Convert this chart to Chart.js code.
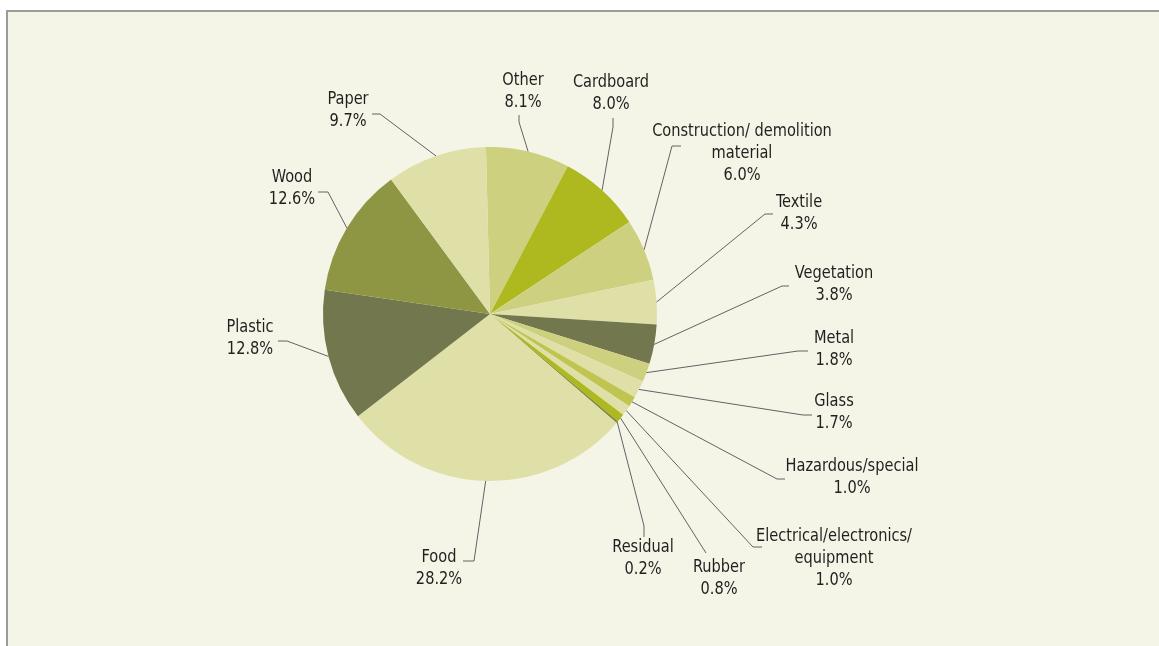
<!DOCTYPE html>
<html>
<head>
<meta charset="utf-8">
<script src="https://cdn.jsdelivr.net/npm/chart.js@4.4.1/dist/chart.umd.min.js"></script>
<style>
  html, body { margin: 0; padding: 0; background: #ffffff; width: 1159px; height: 646px; overflow: hidden; }
  #frame { position: absolute; left: 6px; top: 10px; right: 0; bottom: 0; background: #f4f5e6; border-top: 2px solid #9b9b9b; border-left: 2px solid #9b9b9b; }
  #c { position: absolute; left: 0; top: 0; }
</style>
</head>
<body>
<div id="frame"></div>
<canvas id="c" width="1159" height="646"></canvas>
<script>
// ---- Data ----
const categories = ["Other", "Cardboard", "Construction/ demolition material", "Textile", "Vegetation", "Metal", "Glass", "Hazardous/special", "Electrical/electronics/ equipment", "Rubber", "Residual", "Food", "Plastic", "Wood", "Paper"];
const shares = [8.1, 8.0, 6.0, 4.3, 3.8, 1.8, 1.7, 1.0, 1.0, 0.8, 0.2, 28.2, 12.8, 12.6, 9.7];
const labelLines = [
  ["Other"], ["Cardboard"], ["Construction/ demolition", "material"], ["Textile"], ["Vegetation"],
  ["Metal"], ["Glass"], ["Hazardous/special"], ["Electrical/electronics/", "equipment"], ["Rubber"],
  ["Residual"], ["Food"], ["Plastic"], ["Wood"], ["Paper"]
];

// ---- Styles / layout ----
const sliceColors = ["#cdd17f", "#adb91f", "#cdd17f", "#dfe0a7", "#72774d", "#cdd17f", "#dfe0a7", "#c0c552", "#dfe0a7", "#adb91f", "#848b3c", "#dfe0a7", "#72774d", "#8f9643", "#dfe0a7"];
// text center x, first line center y, leader path points (from pie outward, last point nearest text)
const labelLayout = [
  { x: 523, y: 80,  path: [[519, 122], [519, 115]] },
  { x: 611, y: 82,  path: [[613, 127], [613, 118]] },
  { x: 742, y: 131, path: [[672, 146], [681, 146]] },
  { x: 799, y: 202, path: [[765, 214], [773, 214]] },
  { x: 834, y: 273, path: [[782, 286], [789, 286]] },
  { x: 834, y: 338, path: [[798, 351], [808, 351]] },
  { x: 834, y: 401, path: [[803, 415], [812, 415]] },
  { x: 852, y: 466, path: [[777, 479], [785, 479]] },
  { x: 834, y: 536, path: [[753, 547], [762, 547]] },
  { x: 719, y: 567, path: [[706, 553]] },
  { x: 643, y: 547, path: [[644, 526], [644, 537]] },
  { x: 439, y: 557, path: [[474, 561], [463, 561]] },
  { x: 250, y: 327, path: [[287, 341], [278, 341]] },
  { x: 292, y: 177, path: [[328, 192], [318, 192]] },
  { x: 348, y: 99,  path: [[380, 114], [372, 114]] }
];
const FONT = '18px "DejaVu Sans Condensed", "Liberation Sans Narrow", "Roboto", sans-serif';
const LINE_H = 22;
const X_SCALE = 0.9;

const labelPlugin = {
  id: 'pieLabels',
  afterDraw(chart) {
    const ctx = chart.ctx;
    const meta = chart.getDatasetMeta(0);
    ctx.save();
    meta.data.forEach((arc, i) => {
      const p = arc.getProps(['x', 'y', 'startAngle', 'endAngle', 'outerRadius'], true);
      const mid = (p.startAngle + p.endAngle) / 2;
      const sx = p.x + Math.cos(mid) * p.outerRadius;
      const sy = p.y + Math.sin(mid) * p.outerRadius;
      const L = labelLayout[i];
      ctx.strokeStyle = '#616264';
      ctx.lineWidth = 1;
      ctx.beginPath();
      ctx.moveTo(sx, sy);
      L.path.forEach(pt => ctx.lineTo(pt[0], pt[1]));
      ctx.stroke();
      ctx.fillStyle = '#231f20';
      ctx.font = FONT;
      ctx.textAlign = 'center';
      ctx.textBaseline = 'middle';
      const lines = labelLines[i].concat([shares[i].toFixed(1) + '%']);
      lines.forEach((t, k) => {
        ctx.save();
        ctx.translate(L.x, L.y + k * LINE_H);
        ctx.scale(X_SCALE, 1);
        ctx.fillText(t, 0, 0);
        ctx.restore();
      });
    });
    ctx.restore();
  }
};

new Chart(document.getElementById('c'), {
  type: 'pie',
  data: {
    labels: categories,
    datasets: [{
      data: shares,
      backgroundColor: sliceColors,
      borderWidth: 0,
      hoverOffset: 0
    }]
  },
  options: {
    responsive: false,
    animation: false,
    rotation: -1.4,
    layout: { padding: { left: 323, right: 502, top: 147, bottom: 165 } },
    plugins: { legend: { display: false }, tooltip: { enabled: false } }
  },
  plugins: [labelPlugin]
});
</script>
</body>
</html>
